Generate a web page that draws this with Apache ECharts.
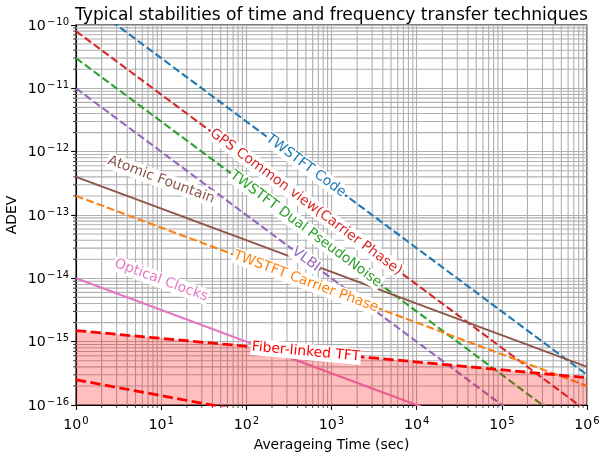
<!DOCTYPE html>
<html><head><meta charset="utf-8">
<script src="https://cdn.jsdelivr.net/npm/echarts@6/dist/echarts.min.js"></script>
<style>html,body{margin:0;padding:0;background:#fff}#c{width:600px;height:458px}</style>
</head><body><div id="c"></div>
<script>
// ---- data (log-log straight lines given by their end points) ----
const tauEnds        = [1, 1e6];
const twstftCode     = [3e-10, 3e-16];
const gpsCarrier     = [8e-11, 8e-17];
const twstftDualPN   = [3e-11, 3e-17];
const vlbi           = [1e-11, 1e-17];
const atomicFountain = [4e-13, 4e-16];
const twstftCarrier  = [2e-13, 2e-16];
const opticalClocks  = [1e-14, 1e-17];
const fiberUpper     = [1.5e-15, 2.7e-16];
const fiberLower     = [2.5e-16, 7.9e-18];
const fiberFloor     = [1e-16, 1e-16];

// axis decades (tick labels are 10^k)
const xDecades = [0, 1, 2, 3, 4, 5, 6];
const yDecades = [-16, -15, -14, -13, -12, -11, -10];
const minorMantissas = [2, 3, 4, 5, 6, 7, 8, 9];

// in-line labels
const labelTexts = ['TWSTFT Code', 'GPS Common view(Carrier Phase)', 'TWSTFT Dual PseudoNoise', 'VLBI',
                    'TWSTFT Carrier Phase', 'Fiber-linked TFT', 'Atomic Fountain', 'Optical Clocks'];
const labelTau   = [500, 500, 500, 500, 500, 500, 10, 10];
const labelAdev  = [6e-13, 1.6e-13, 6e-14, 2e-14, 8.9e-15, 6.9e-16, 3.6e-13, 9.3e-15];

// ---- styling ----
const FONT = '"DejaVu Sans", "Liberation Sans", sans-serif';
const C = {blue:'#1f77b4', orange:'#ff7f0e', green:'#2ca02c', red:'#d62728', purple:'#9467bd',
           brown:'#8c564b', pink:'#e377c2', fiber:'#ff0000'};
const DASH = [7.7, 3.3];
const DASH2 = [10.3, 4.4];

const lineDefs = [
  {name:'TWSTFT Code', v:twstftCode, color:C.blue, dash:DASH, w:2.08},
  {name:'GPS Common view(Carrier Phase)', v:gpsCarrier, color:C.red, dash:DASH, w:2.08},
  {name:'TWSTFT Dual PseudoNoise', v:twstftDualPN, color:C.green, dash:DASH, w:2.08},
  {name:'VLBI', v:vlbi, color:C.purple, dash:DASH, w:2.08},
  {name:'Atomic Fountain', v:atomicFountain, color:C.brown, dash:'solid', w:2.08},
  {name:'TWSTFT Carrier Phase', v:twstftCarrier, color:C.orange, dash:DASH, w:2.08},
  {name:'Optical Clocks', v:opticalClocks, color:C.pink, dash:'solid', w:2.08},
  {name:'Fiber upper', v:fiberUpper, color:C.fiber, dash:DASH2, w:2.78},
  {name:'Fiber lower', v:fiberLower, color:C.fiber, dash:DASH2, w:2.78}
];
const labelLine  = [twstftCode, gpsCarrier, twstftDualPN, vlbi, twstftCarrier, fiberUpper, atomicFountain, opticalClocks];
const labelColor = [C.blue, C.red, C.green, C.purple, C.orange, C.fiber, C.brown, C.pink];

const xMinor = [], yMinor = [];
xDecades.slice(0, -1).forEach(k => minorMantissas.forEach(m => xMinor.push(m * Math.pow(10, k))));
yDecades.slice(0, -1).forEach(k => minorMantissas.forEach(m => yMinor.push(m * Math.pow(10, k))));

function powLabel(v) {
  const e = Math.round(Math.log10(v));
  if (e < 0) return '{b|10}{m|\u2212}{s|' + (-e) + '}';
  return '{b|10}{s|' + e + '}';
}
const richLbl = {
  b: {fontSize: 14.2, fontFamily: FONT, color: '#000', lineHeight: 16, verticalAlign: 'bottom', padding: [0, 1, 0, 0]},
  m: {fontSize: 10, fontFamily: FONT, color: '#000', lineHeight: 10, verticalAlign: 'top', padding: [0, 1, 0, 0]},
  s: {fontSize: 10, fontFamily: FONT, color: '#000', lineHeight: 10, verticalAlign: 'top'}
};
const GRIDC = '#b0b0b0';

const chart = echarts.init(document.getElementById('c'), null, {renderer: 'canvas'});

const series = [];
// minor grid lines + minor ticks (x)
series.push({
  type: 'custom', z: 1, silent: true, animation: false,
  data: xMinor.map(v => [v, 1e-13]),
  renderItem: (params, api) => {
    const cs = params.coordSys;
    const x = api.coord([api.value(0), 1e-13])[0];
    return {type: 'group', children: [
      {type: 'line', shape: {x1: x, y1: cs.y, x2: x, y2: cs.y + cs.height}, style: {stroke: GRIDC, lineWidth: 1.1}},
      {type: 'line', shape: {x1: x, y1: cs.y + cs.height, x2: x, y2: cs.y + cs.height + 2.8}, style: {stroke: '#000', lineWidth: 0.8}}
    ]};
  }
});
// minor grid lines + minor ticks (y)
series.push({
  type: 'custom', z: 1, silent: true, animation: false,
  data: yMinor.map(v => [10, v]),
  renderItem: (params, api) => {
    const cs = params.coordSys;
    const y = api.coord([10, api.value(1)])[1];
    return {type: 'group', children: [
      {type: 'line', shape: {x1: cs.x, y1: y, x2: cs.x + cs.width, y2: y}, style: {stroke: GRIDC, lineWidth: 1.1}},
      {type: 'line', shape: {x1: cs.x - 2.8, y1: y, x2: cs.x, y2: y}, style: {stroke: '#000', lineWidth: 0.8}}
    ]};
  }
});
// lines
lineDefs.forEach(d => series.push({
  type: 'line', name: d.name, z: 3, animation: false, symbol: 'none', showSymbol: false, clip: true,
  data: tauEnds.map((t, i) => [t, d.v[i]]),
  lineStyle: {color: d.color, width: d.w, type: d.dash, cap: 'butt'}
}));
// fiber fill (under the upper fiber curve)
series.push({
  type: 'custom', z: 4, silent: true, animation: false,
  data: [[tauEnds[0], fiberUpper[0]]],
  renderItem: (params, api) => {
    const pts = [
      api.coord([tauEnds[0], fiberUpper[0]]), api.coord([tauEnds[1], fiberUpper[1]]),
      api.coord([tauEnds[1], fiberFloor[1]]), api.coord([tauEnds[0], fiberFloor[0]])
    ];
    return {type: 'polygon', shape: {points: pts}, style: {fill: 'rgba(255,0,0,0.25)'}};
  }
});
// in-line labels
series.push({
  type: 'custom', z: 5, silent: true, animation: false,
  data: labelTau.map((t, i) => [t, labelAdev[i], i]),
  renderItem: (params, api) => {
    const i = api.value(2);
    const p = api.coord([api.value(0), api.value(1)]);
    const L = labelLine[i];
    const a = api.coord([tauEnds[0], L[0]]), b = api.coord([tauEnds[1], L[1]]);
    const rot = Math.atan2(a[1] - b[1], b[0] - a[0]);
    return {type: 'text', x: p[0], y: p[1], rotation: rot,
      style: {text: labelTexts[i], fill: labelColor[i], fontSize: 13.9, fontFamily: FONT,
              align: 'center', verticalAlign: 'middle', backgroundColor: '#fff', padding: [1, 1]}};
  }
});

chart.setOption({
  animation: false,
  backgroundColor: '#fff',
  title: {
    text: 'Typical stabilities of time and frequency transfer techniques',
    left: 326.5, textAlign: 'center', top: 2,
    textStyle: {fontSize: 17.1, fontFamily: FONT, color: '#000', fontWeight: 'normal'}
  },
  grid: {left: 76, top: 25, width: 511, height: 380, show: true, borderColor: '#000', borderWidth: 1.1,
         backgroundColor: 'transparent', containLabel: false, outerBoundsMode: 'none'},
  xAxis: {
    type: 'log', logBase: 10, min: 1, max: 1e6, splitNumber: 6,
    name: 'Averageing Time (sec)', nameLocation: 'middle', nameGap: 33, nameMoveOverlap: false,
    nameTextStyle: {fontSize: 13.9, fontFamily: FONT, color: '#000'},
    axisLine: {show: true, lineStyle: {color: '#000', width: 1.1}},
    axisTick: {show: true, inside: false, length: 4.9, lineStyle: {color: '#000', width: 1.1}},
    axisLabel: {formatter: powLabel, rich: richLbl, margin: 11},
    splitLine: {show: true, lineStyle: {color: GRIDC, width: 1.1}},
    minorTick: {show: false}, minorSplitLine: {show: false}
  },
  yAxis: {
    type: 'log', logBase: 10, min: 1e-16, max: 1e-10, splitNumber: 6,
    name: 'ADEV', nameLocation: 'middle', nameGap: 57, nameRotate: 90, nameMoveOverlap: false,
    nameTextStyle: {fontSize: 13.9, fontFamily: FONT, color: '#000'},
    axisLine: {show: true, lineStyle: {color: '#000', width: 1.1}},
    axisTick: {show: true, inside: false, length: 4.9, lineStyle: {color: '#000', width: 1.1}},
    axisLabel: {formatter: powLabel, rich: richLbl, margin: 7},
    splitLine: {show: true, lineStyle: {color: GRIDC, width: 1.1}},
    minorTick: {show: false}, minorSplitLine: {show: false}
  },
  series: series
});
</script></body></html>
